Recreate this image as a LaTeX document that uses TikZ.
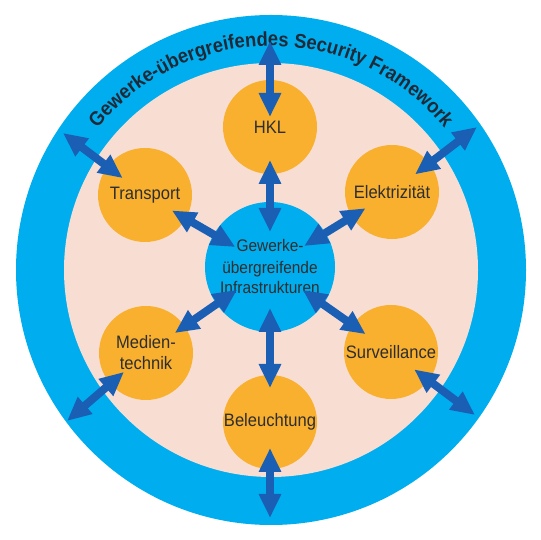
\documentclass[tikz,border=0pt]{standalone}
\usepackage{fontspec}
\setmainfont{Liberation Sans}[FakeStretch=0.92]
\usetikzlibrary{arrows.meta,decorations.text}
\definecolor{ringblue}{HTML}{00AEEF}
\definecolor{pinkbg}{HTML}{F8DDD3}
\definecolor{orangec}{HTML}{F9B02F}
\definecolor{arrowblue}{HTML}{1A5FB4}
\definecolor{textc}{HTML}{2E2E2E}
\definecolor{titlec}{HTML}{1E2A38}
\newcommand\titlefontx{\fontsize{20}{20}\selectfont\bfseries}
\tikzset{
  unit/.style={circle, fill=orangec, minimum size=94pt, inner sep=0pt, outer sep=0pt,
    text=textc, font=\fontsize{18}{21}\selectfont, align=center},
  hub/.style={circle, fill=ringblue, minimum size=130pt, inner sep=0pt, outer sep=0pt,
    text=textc, font=\fontsize{16.8}{21}\selectfont, align=center},
  biarrow/.style={draw=arrowblue, line width=8pt,
    {Triangle[length=24pt,width=21pt]}-{Triangle[length=24pt,width=21pt]}},
  inarrow/.style={biarrow, shorten <=-16pt, shorten >=-25pt},
}
\begin{document}
\begin{tikzpicture}[x=1pt,y=1pt]
\useasboundingbox (0,0) rectangle (540,540);
\fill[white] (0,0) rectangle (540,540);
\node[circle, fill=ringblue, minimum size=510pt, inner sep=0pt, outer sep=0pt] (ring) at (271,270) {};
\node[circle, fill=pinkbg, minimum size=414pt, inner sep=0pt, outer sep=0pt] (inner) at (271,270) {};
\path[decorate, decoration={text along path, text align=center, text color=titlec,
  text={|\titlefontx|Gewerke-übergreifendes Security Framework}}]
  (ring.center) ++(170:224) arc[start angle=170, end angle=10, radius=224];

\node[hub] (hub) at (270,273) {Gewerke-\\übergreifende\\Infrastrukturen};
\node[unit] (hkl) at (270,413) {HKL};
\node[unit] (trans) at (145,345) {Transport};
\node[unit] (elek) at (392,348) {Elektrizität};
\node[unit] (med) at (146,187) {Medien-\\technik};
\node[unit] (surv) at (391,188) {Surveillance};
\node[unit] (bel) at (270,118) {Beleuchtung};

\coordinate (oH) at (270,499);
\coordinate (oT) at (63,407);
\coordinate (oE) at (477,413);
\coordinate (oS) at (475,125);
\coordinate (oM) at (67,119);
\coordinate (oB) at (270,22);

\draw[biarrow, shorten <=-14pt, shorten >=-30pt] (hkl) -- (hub);
\draw[inarrow] (trans) -- (hub);
\draw[inarrow] (elek) -- (hub);
\draw[inarrow, shorten <=-12pt] (med) -- (hub);
\draw[inarrow] (surv) -- (hub);
\draw[biarrow, shorten <=-13pt, shorten >=-24pt] (bel) -- (hub);

\draw[biarrow, shorten <=-37pt] (hkl) -- (oH);
\draw[biarrow, shorten <=-19pt] (trans) -- (oT);
\draw[biarrow, shorten <=-18pt] (elek) -- (oE);
\draw[biarrow, shorten <=-18pt] (surv) -- (oS);
\draw[biarrow, shorten <=-18pt] (med) -- (oM);
\draw[biarrow, shorten <=-21pt] (bel) -- (oB);
\end{tikzpicture}
\end{document}
